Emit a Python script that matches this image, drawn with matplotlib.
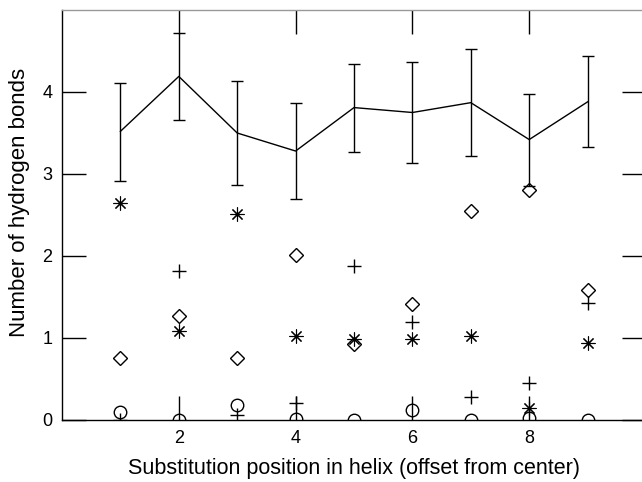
import matplotlib
matplotlib.use("Agg")
import matplotlib.pyplot as plt

plt.rcParams['font.family'] = ['Liberation Sans', 'DejaVu Sans']

positions = [1, 2, 3, 4, 5, 6, 7, 8, 9]
mean_bonds = [3.52, 4.19, 3.50, 3.28, 3.81, 3.75, 3.87, 3.42, 3.88]
err_upper = [4.11, 4.72, 4.14, 3.86, 4.34, 4.37, 4.52, 3.98, 4.44]
err_lower = [2.92, 3.66, 2.86, 2.69, 3.27, 3.13, 3.22, 2.85, 3.33]

star_vals = [2.65, 1.09, 2.51, 1.03, 0.99, 0.99, 1.03, 0.15, 0.94]
diamond_vals = [0.76, 1.27, 0.76, 2.01, 0.93, 1.42, 2.55, 2.80, 1.58]
plus_vals = [0.0, 1.82, 0.06, 0.21, 1.88, 1.20, 0.28, 0.45, 1.43]
circle_vals = [0.10, 0.0, 0.18, 0.01, 0.0, 0.12, 0.0, 0.02, 0.0]

x_ticks = [2, 4, 6, 8]
y_ticks = [0, 1, 2, 3, 4]

fig = plt.figure(figsize=(6.42, 4.82), dpi=100)
ax = fig.add_axes([62/642, 62/482, 584/642, 410/482])

yerr = [[m - l for m, l in zip(mean_bonds, err_lower)],
        [u - m for m, u in zip(mean_bonds, err_upper)]]
ax.errorbar(positions, mean_bonds, yerr=yerr, color='black', lw=1.0,
            elinewidth=1.0, capsize=4.2, capthick=1.0, zorder=3)

ax.plot(positions, star_vals, linestyle='none', marker=(8, 2, 0),
        markersize=10, markeredgewidth=0.8, color='black', zorder=4)
ax.plot(positions, diamond_vals, linestyle='none', marker='D',
        markersize=6.8, markeredgewidth=1.0, markerfacecolor='none',
        markeredgecolor='black', zorder=4)
ax.plot(positions, plus_vals, linestyle='none', marker='+',
        markersize=10, markeredgewidth=1.0, color='black', zorder=4)
ax.plot(positions, circle_vals, linestyle='none', marker='o',
        markersize=9, markeredgewidth=1.0, markerfacecolor='none',
        markeredgecolor='black', zorder=4)

ax.set_xlim(0, 10)
ax.set_ylim(0, 5)
ax.set_xticks(x_ticks)
ax.set_yticks(y_ticks)
ax.set_xticklabels([str(v) for v in x_ticks])
ax.set_yticklabels([str(v) for v in y_ticks])

ax.tick_params(direction='in', length=17, width=1.0, top=True, right=True,
               labelsize=13, pad=7)
for s in ['left', 'bottom', 'right']:
    ax.spines[s].set_linewidth(1.0)
ax.spines['top'].set_color('#999999')
ax.spines['top'].set_linewidth(1.0)

ax.set_xlabel('Substitution position in helix (offset from center)', fontsize=15.5, labelpad=8)
ax.set_ylabel('Number of hydrogen bonds', fontsize=16)
ax.yaxis.set_label_coords(-0.054, 0.53)

fig.savefig('out.png', dpi=100)
